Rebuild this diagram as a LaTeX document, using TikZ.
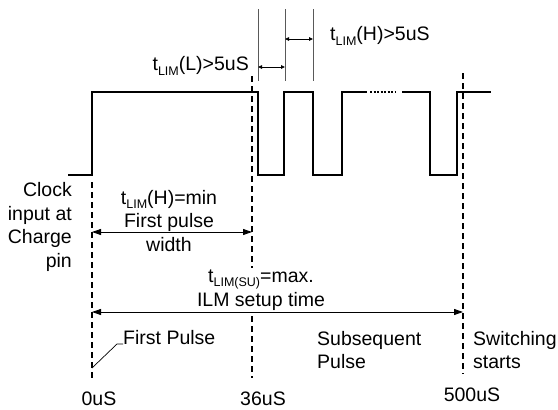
\documentclass[tikz,border=0pt]{standalone}
\usepackage{fontspec}
\setmainfont{Liberation Sans}
\usetikzlibrary{arrows.meta}
\newcommand\lsub[1]{\raisebox{-0.22em}{\fontsize{12.5}{12.5}\selectfont #1}}
\begin{document}
\begin{tikzpicture}[x=1pt,y=-1pt,
  wave/.style={line width=1.3pt},
  guide/.style={line width=1.1pt, dash pattern=on 6pt off 4pt},
  tickline/.style={gray!70!black, line width=0.8pt},
  bigarrow/.style={line width=0.9pt, {Triangle[length=9pt,width=6pt]}-{Triangle[length=9pt,width=6pt]}},
  smallarrow/.style={line width=0.8pt, {Triangle[length=4pt,width=3.5pt]}-{Triangle[length=4pt,width=3.5pt]}},
  lbl/.style={font=\fontsize{19.5}{23.5}\selectfont, inner sep=0pt, align=center}]
\useasboundingbox (0,0) rectangle (558,410);
% waveform
\draw[wave] (68,175) -- (92,175) -- (92,92) -- (258,92) -- (258,175) -- (284,175) -- (284,92) -- (313,92) -- (313,175) -- (342,175) -- (342,92) -- (367,92);
\draw[wave, dash pattern=on 2pt off 1.5pt] (370,92) -- (395,92);
\draw[wave] (402,92) -- (430,92) -- (430,175) -- (457,175) -- (457,92) -- (491,92);
% guides
\coordinate (g0t) at (92,182);  \coordinate (g0b) at (92,378);
\coordinate (g1t) at (252,76);  \coordinate (g1b) at (252,378);
\coordinate (g2t) at (463,73);  \coordinate (g2b) at (463,374);
\draw[guide] (g0t) -- (g0b);
\draw[guide] (g1t) -- (g1b);
\draw[guide] (g2t) -- (g2b);
% top ticks
\coordinate (t1t) at (258,9); \coordinate (t1b) at (258,81);
\coordinate (t2t) at (285,9); \coordinate (t2b) at (285,81);
\coordinate (t3t) at (313,9); \coordinate (t3b) at (313,81);
\draw[tickline] (t1t) -- (t1b);
\draw[tickline] (t2t) -- (t2b);
\draw[tickline] (t3t) -- (t3b);
\coordinate (aL1) at (258,67); \coordinate (aL2) at (285,67);
\coordinate (aH1) at (285,39); \coordinate (aH2) at (313,39);
\draw[smallarrow] (aL1) -- (aL2);
\draw[smallarrow] (aH1) -- (aH2);
\node[lbl, anchor=east] (tl) at (249,66) {t\lsub{LIM}(L)>5uS};
\node[lbl, anchor=west] (th) at (330,36) {t\lsub{LIM}(H)>5uS};
% first pulse width
\coordinate (w1) at (92,232); \coordinate (w2) at (252,232);
\draw[bigarrow] (w1) -- (w2);
\node[lbl] (fpw) at (169,221) {t\lsub{LIM}(H)=min\\First pulse\\width};
% setup time
\node[lbl, fill=white, inner ysep=2pt] (su) at (261,290) {t\lsub{LIM(SU)}=max.\\ILM setup time};
\coordinate (s1) at (92,312); \coordinate (s2) at (463,312);
\draw[bigarrow] (s1) -- (s2);
% left label
\node[lbl, anchor=east, align=right] (clk) at (72,227) {Clock\\input at\\Charge\\pin};
% bottom labels
\node[lbl, anchor=west] (fp) at (123,338) {First Pulse};
\coordinate (fpa) at (92,368); \coordinate (fpb) at (117,344);
\draw[line width=0.7pt] (fpa) -- (fpb) -- (fp.south west |- fpb);
\node[lbl, anchor=west, align=left] (sp) at (317,350) {Subsequent\\Pulse};
\node[lbl, anchor=west, align=left] (ss) at (473,350) {Switching\\starts};
\node[lbl] (l0) at (99,399) {0uS};
\node[lbl] (l36) at (263,399) {36uS};
\node[lbl] (l500) at (472,395) {500uS};
\end{tikzpicture}
\end{document}
